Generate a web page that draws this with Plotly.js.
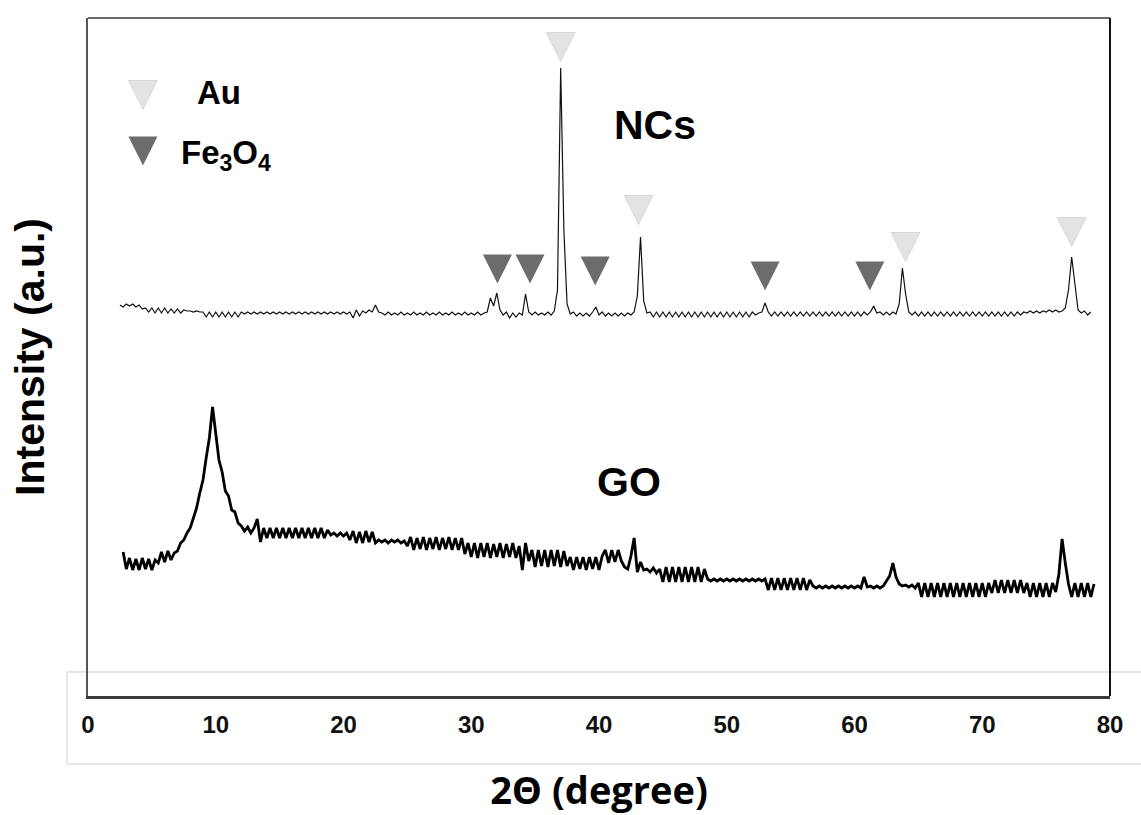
<!DOCTYPE html>
<html>
<head>
<meta charset="utf-8">
<script src="https://cdn.plot.ly/plotly-3.0.1.min.js"></script>
<style>
html, body { margin: 0; padding: 0; background: #ffffff; }
#chart { width: 1141px; height: 815px; }
</style>
</head>
<body>
<div id="chart"></div>
<script>
// ---- Data (2θ grid start / step, intensities in arbitrary units) ----
const STEP = 0.25;
const NCS_START = 2.5;
const ncsY = [
  391,389,392,390,392,389,391,387,388,384,388,383,388,383,388,383,387,383,387,383,
  386,385,385,384,385,384,384,379,384,379,384,379,384,379,384,379,384,379,384,382,
  384,382,384,382,384,382,384,382,384,382,384,382,384,382,384,382,384,382,384,382,
  384,382,384,382,384,382,384,382,384,382,384,382,384,378,386,380,385,383,386,384,
  391,384,383,381,384,381,383,381,384,381,383,381,384,381,383,381,384,381,383,381,
  384,381,383,381,384,381,383,381,384,381,383,381,384,381,383,384,398,390,403,386,
  381,384,378,383,379,383,381,402,384,381,384,381,383,381,384,381,385,406,628,466,
  392,382,384,380,383,380,383,380,384,389,381,384,380,383,380,383,380,383,380,383,
  381,384,400,459,395,383,384,379,384,379,384,379,384,379,384,379,384,379,384,379,
  384,379,384,379,384,379,384,379,384,379,384,379,384,379,384,379,384,379,384,381,
  383,384,393,384,380,384,380,384,380,384,380,384,380,384,380,384,380,384,380,384,
  380,384,380,384,380,384,380,384,380,384,380,384,380,384,381,384,390,383,384,381,
  384,381,384,382,392,428,402,384,381,384,380,384,380,384,380,384,380,384,380,384,
  380,384,380,384,380,384,380,384,380,384,380,384,380,384,380,384,380,384,380,384,
  380,384,381,384,383,385,383,385,383,385,384,386,384,386,384,385,388,406,439,414,
  386,383,385,381,384
];
const GO_START = 2.75;
const goY = [
  144,127,138,126,137,126,138,127,137,126,136,133,144,134,145,136,143,145,153,156,
  163,168,178,188,203,216,238,258,289,262,236,224,205,200,186,184,173,170,165,169,
  163,168,177,154,168,158,168,158,168,158,168,158,168,158,168,158,168,158,168,158,
  168,158,168,158,166,161,163,160,163,160,163,156,165,153,164,153,165,154,164,153,
  156,154,156,153,156,154,156,153,155,150,159,146,158,147,159,146,158,147,159,146,
  158,147,159,146,158,146,158,142,153,139,153,138,153,139,153,138,152,139,153,138,
  152,139,153,138,150,126,153,135,146,129,146,130,146,129,146,130,146,129,145,130,
  139,126,139,127,139,126,139,127,139,126,140,146,133,146,134,146,135,129,127,140,
  158,124,134,126,127,124,128,123,127,114,129,114,129,114,129,114,129,114,129,114,
  129,114,127,117,115,117,115,117,115,117,115,117,115,117,115,117,115,117,115,117,
  115,117,106,118,106,118,106,118,106,118,106,118,106,118,106,116,110,108,110,108,
  110,108,110,108,110,108,110,108,110,108,110,108,119,109,110,108,110,108,110,115,
  120,133,119,112,110,111,109,111,108,113,99,113,99,113,99,113,99,113,99,113,
  99,113,99,113,99,113,99,113,99,113,99,113,103,116,103,116,103,116,103,116,
  103,116,103,113,99,113,99,113,99,113,99,113,104,122,157,133,112,99,113,99,
  113,99,113,99,112
];

// Peak marker positions (2θ) and marker heights
const auMarkX = [37.0, 43.1, 64.0, 77.0];
const auMarkY = [649, 486, 449, 464];
const feMarkX = [32.05, 34.6, 39.7, 53.0, 61.2];
const feMarkY = [427, 427, 425, 420, 420];

// Legend (drawn in data space, top-left)
const legendLabels = ['Au', 'Fe<sub>3</sub>O<sub>4</sub>'];
const legendMarkX = [4.3, 4.3];
const legendMarkY = [601, 545];
const legendTextX = [8.4, 7.1];
const legendTextY = [604, 541];

// Sample labels
const sampleLabels = ['NCs', 'GO'];
const sampleLabelX = [44.4, 42.35];
const sampleLabelY = [571, 214];

// Axis ticks
const xTickVals = [0, 10, 20, 30, 40, 50, 60, 70, 80];
const xRange = [0, 80];
const yRange = [0, 678];

// ---- Build ----
const ncsX = ncsY.map((_, i) => NCS_START + i * STEP);
const goX = goY.map((_, i) => GO_START + i * STEP);

const AU_COLOR = '#e3e3e3';
const FE_COLOR = '#6c6c6c';
const TRI = 'M -14.5,14.5 L 14.5,14.5 L 0,-14.5 Z';

function triShape(x, y, color, edge) {
  return {
    type: 'path', xref: 'x', yref: 'y',
    xsizemode: 'pixel', ysizemode: 'pixel',
    xanchor: x, yanchor: y, path: TRI,
    fillcolor: color, line: {color: edge, width: edge === 'rgba(0,0,0,0)' ? 0 : 0.8},
    layer: 'above'
  };
}

const shapes = [];
// light grey box around the axis-label strip
shapes.push({type: 'rect', xref: 'paper', yref: 'paper', x0: -0.0205, x1: 1.04, y0: -0.1003, y1: 0.0354,
  line: {color: '#cfcfcf', width: 1}, fillcolor: 'rgba(0,0,0,0)', layer: 'below'});
// top and right frame
shapes.push({type: 'line', xref: 'paper', yref: 'paper', x0: 0, x1: 1, y0: 1, y1: 1, line: {color: '#6a6a6a', width: 2}});
shapes.push({type: 'line', xref: 'paper', yref: 'paper', x0: 1, x1: 1, y0: 0, y1: 1, line: {color: '#111111', width: 2}});

auMarkX.forEach((x, i) => shapes.push(triShape(x, auMarkY[i], AU_COLOR, '#d2d2d2')));
feMarkX.forEach((x, i) => shapes.push(triShape(x, feMarkY[i], FE_COLOR, 'rgba(0,0,0,0)')));
shapes.push(triShape(legendMarkX[0], legendMarkY[0], AU_COLOR, '#d2d2d2'));
shapes.push(triShape(legendMarkX[1], legendMarkY[1], FE_COLOR, 'rgba(0,0,0,0)'));

const annotations = [];
legendLabels.forEach((t, i) => annotations.push({
  x: legendTextX[i], y: legendTextY[i], xref: 'x', yref: 'y', text: t, showarrow: false,
  xanchor: 'left', yanchor: 'middle',
  font: {family: 'Liberation Sans, Arial, sans-serif', size: 33, color: '#000', weight: 'bold'}
}));
sampleLabels.forEach((t, i) => annotations.push({
  x: sampleLabelX[i], y: sampleLabelY[i], xref: 'x', yref: 'y', text: t, showarrow: false,
  xanchor: 'center', yanchor: 'middle',
  font: {family: 'Liberation Sans, Arial, sans-serif', size: 41, color: '#000', weight: 'bold'}
}));

const traces = [
  {x: ncsX, y: ncsY, type: 'scatter', mode: 'lines', name: 'NCs',
   line: {color: '#111111', width: 1.2}, showlegend: false, hoverinfo: 'skip'},
  {x: goX, y: goY, type: 'scatter', mode: 'lines', name: 'GO',
   line: {color: '#000000', width: 2.8}, showlegend: false, hoverinfo: 'skip'}
];

const layout = {
  width: 1141, height: 815,
  margin: {l: 88, r: 31, t: 18, b: 119},
  paper_bgcolor: '#ffffff', plot_bgcolor: '#ffffff',
  showlegend: false,
  xaxis: {
    range: xRange, tickvals: xTickVals, ticks: '', showgrid: false, zeroline: false,
    showline: true, linecolor: '#3d3d3d', linewidth: 3, ticklabelstandoff: 5,
    tickfont: {family: 'Liberation Sans, Arial, sans-serif', size: 24, color: '#111', weight: 'bold'},
    title: {text: '2Θ (degree)', standoff: 47,
      font: {family: 'Open Sans, sans-serif', size: 38, color: '#000', weight: 'bold'}}
  },
  yaxis: {
    range: yRange, showticklabels: false, ticks: '', showgrid: false, zeroline: false,
    showline: true, linecolor: '#555555', linewidth: 2,
    title: {text: 'Intensity (a.u.)', standoff: 29,
      font: {family: 'Liberation Sans, Arial, sans-serif', size: 41, color: '#000', weight: 'bold'}}
  },
  shapes: shapes,
  annotations: annotations
};

Plotly.newPlot('chart', traces, layout, {displayModeBar: false, staticPlot: true});
</script>
</body>
</html>
